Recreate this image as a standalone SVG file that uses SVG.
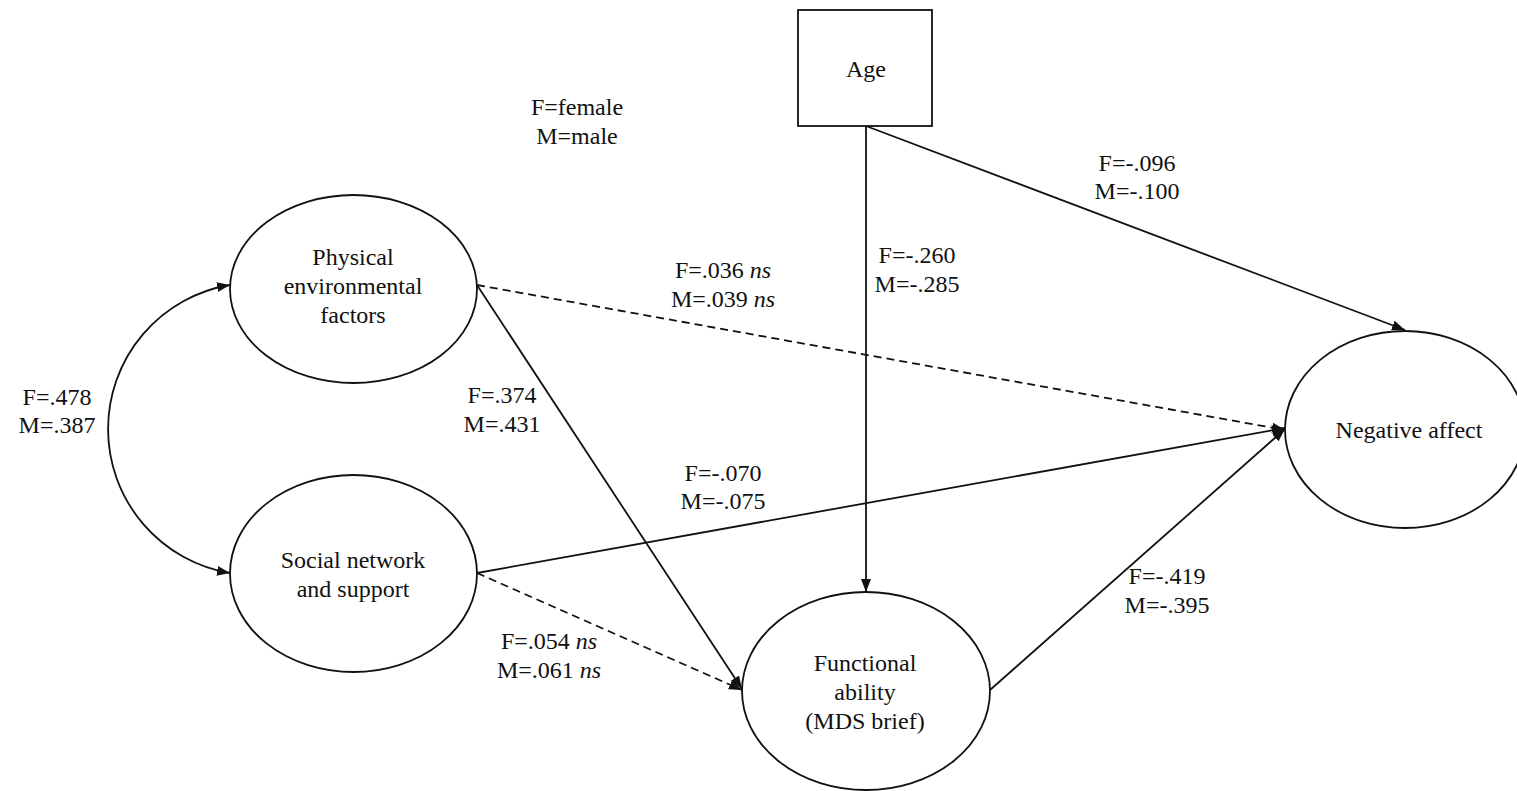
<svg xmlns="http://www.w3.org/2000/svg" width="1517" height="791" viewBox="0 0 1517 791">
<style>
text{font-family:"Liberation Serif","Times New Roman",serif;font-size:24px;fill:#111;text-anchor:middle}
.node{fill:#fff;stroke:#111;stroke-width:1.8}
.edge{fill:none;stroke:#111;stroke-width:1.8}
.dash{stroke-dasharray:8 5}
</style>
<defs>
<marker id="ah" markerUnits="userSpaceOnUse" markerWidth="14" markerHeight="12" viewBox="0 0 14 12" refX="13" refY="6" orient="auto-start-reverse">
<path d="M0,1 L13,6 L0,11 Z" fill="#111"/>
</marker>
</defs>
<rect width="1517" height="791" fill="#fff"/>
<g id="connectors">
<path class="edge" d="M230,285 A146,146 0 0 0 230,573" marker-start="url(#ah)" marker-end="url(#ah)"/>
<line class="edge" x1="866" y1="126" x2="1405" y2="330" marker-end="url(#ah)"/>
<line class="edge" x1="866" y1="126" x2="866" y2="592" marker-end="url(#ah)"/>
<line class="edge dash" x1="477" y1="285" x2="1285" y2="430" marker-end="url(#ah)"/>
<line class="edge" x1="477" y1="285" x2="742" y2="689" marker-end="url(#ah)"/>
<line class="edge" x1="477" y1="573" x2="1285" y2="428" marker-end="url(#ah)"/>
<line class="edge dash" x1="477" y1="573" x2="742" y2="690" marker-end="url(#ah)"/>
<line class="edge" x1="990" y1="690" x2="1285" y2="429" marker-end="url(#ah)"/>
</g>
<g id="node-age">
<rect class="node" x="798" y="10" width="134" height="116"/>
<text x="866" y="77">Age</text>
</g>
<g id="node-physical">
<ellipse class="node" cx="353.5" cy="289" rx="123.5" ry="94"/>
<text x="353" y="265">Physical</text>
<text x="353" y="294">environmental</text>
<text x="353" y="323">factors</text>
</g>
<g id="node-social">
<ellipse class="node" cx="353.5" cy="573.5" rx="123.5" ry="98.5"/>
<text x="353" y="568">Social network</text>
<text x="353" y="597">and support</text>
</g>
<g id="node-functional">
<ellipse class="node" cx="866" cy="691" rx="124" ry="99"/>
<text x="865" y="671">Functional</text>
<text x="865" y="700">ability</text>
<text x="865" y="729">(MDS brief)</text>
</g>
<g id="node-negative">
<ellipse class="node" cx="1405" cy="429.5" rx="120" ry="98.5"/>
<text x="1409" y="438">Negative affect</text>
</g>
<g id="labels">
<text x="577" y="115">F=female</text>
<text x="577" y="144">M=male</text>
<text x="1137" y="171">F=-.096</text>
<text x="1137" y="199">M=-.100</text>
<text x="917" y="263">F=-.260</text>
<text x="917" y="292">M=-.285</text>
<text x="723" y="278">F=.036 <tspan font-style="italic">ns</tspan></text>
<text x="723" y="307">M=.039 <tspan font-style="italic">ns</tspan></text>
<text x="57" y="405">F=.478</text>
<text x="57" y="433">M=.387</text>
<text x="502" y="403">F=.374</text>
<text x="502" y="432">M=.431</text>
<text x="723" y="481">F=-.070</text>
<text x="723" y="509">M=-.075</text>
<text x="549" y="649">F=.054 <tspan font-style="italic">ns</tspan></text>
<text x="549" y="678">M=.061 <tspan font-style="italic">ns</tspan></text>
<text x="1167" y="584">F=-.419</text>
<text x="1167" y="613">M=-.395</text>
</g>
</svg>
